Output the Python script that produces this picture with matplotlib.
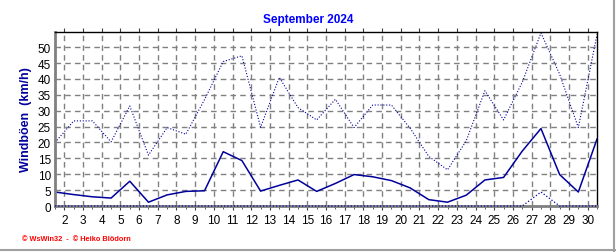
import numpy as np
import matplotlib
matplotlib.use('Agg')
import matplotlib.pyplot as plt
from matplotlib.ticker import MultipleLocator

plt.rcParams['font.family'] = ['Liberation Sans', 'DejaVu Sans']

# Tage im September, Werte werden jeweils in der Tagesmitte gezeichnet
days = np.arange(1, 31)
boeen_max = [20, 26.8, 26.8, 20.2, 31.5, 16.0, 24.7, 22.6, 33.5, 45.5,
             47.3, 24.8, 40.5, 31.0, 27.1, 33.6, 24.7, 31.8, 31.8, 24.5,
             15.6, 11.4, 20.5, 36.3, 27.1, 39.0, 54.5, 41.5, 24.7, 54.0]
boeen_mittel = [4.4, 3.6, 2.9, 2.5, 7.8, 1.2, 3.5, 4.6, 4.8, 17.1,
                14.3, 4.7, 6.5, 8.2, 4.6, 7.1, 9.9, 9.2, 8.0, 5.7,
                2.0, 1.2, 3.4, 8.2, 9.0, 17.3, 24.4, 9.9, 4.4, 21.1]
boeen_min = [0, 0, 0, 0, 0, 0, 0, 0, 0, 0,
             0, 0, 0, 0, 0, 0, 0, 0, 0, 0,
             0, 0, 0, 0, 0, 0, 4.4, 0, 0, 0]
xticks = list(range(2, 31))
yticks = list(range(0, 55, 5))

fig = plt.figure(figsize=(6.16, 2.53), dpi=100)
ax = fig.add_axes([0.0893, 0.1818, 0.8799, 0.6878])

x = days + 0.5
col = '#00009c'
ax.plot(x, boeen_max, color=col, linestyle=(0, (1, 1.6)), linewidth=0.8)
ax.plot(x, boeen_mittel, color=col, linestyle='solid', linewidth=1.1)
ax.plot(x, boeen_min, color=col, linestyle=(0, (1, 1.6)), linewidth=0.9, clip_on=False, zorder=5)

ax.set_xlim(1.5, 30.5)
ax.set_ylim(0, 54.8)
ax.set_xticks(xticks)
ax.set_xticklabels([str(t) for t in xticks])
ax.set_yticks(yticks)
ax.xaxis.set_minor_locator(MultipleLocator(0.5))

ax.grid(True, which='major', color='#808080', linestyle=(0, (4, 3)), linewidth=1.0)
ax.tick_params(axis='both', which='major', labelsize=8.5, length=3, color='#404040', pad=3)
ax.tick_params(axis='x', which='major', direction='out', top=True)
ax.tick_params(axis='x', which='minor', direction='out', length=2, color='#404040', top=False)
ax.tick_params(axis='y', which='major', direction='in', length=0, pad=3)

for side in ['top', 'right']:
    ax.spines[side].set_color('black')
    ax.spines[side].set_linewidth(1.0)
for side in ['left', 'bottom']:
    ax.spines[side].set_color('#808080')
    ax.spines[side].set_linewidth(2.0)

ax.set_ylabel('Windböen  (km/h)', color='#00009c', fontsize=9, fontweight='bold', labelpad=4)
fig.text(0.5, 0.92, 'September 2024', color='#0000ff', fontsize=8.5, fontweight='bold',
         ha='center', va='center')
fig.text(0.035, 0.053, '© WsWin32  -  © Heiko Blödorn', color='#ff0000', fontsize=5.3,
         fontweight='bold', ha='left', va='center')

# grauer Rahmen rechts und unten
fig.add_artist(plt.Line2D([0.997, 0.997], [0.0, 1.0], color='#a0a0a0', linewidth=1.5))
fig.add_artist(plt.Line2D([0.0, 1.0], [0.006, 0.006], color='#a0a0a0', linewidth=1.5))

fig.savefig('out.png', dpi=100)
